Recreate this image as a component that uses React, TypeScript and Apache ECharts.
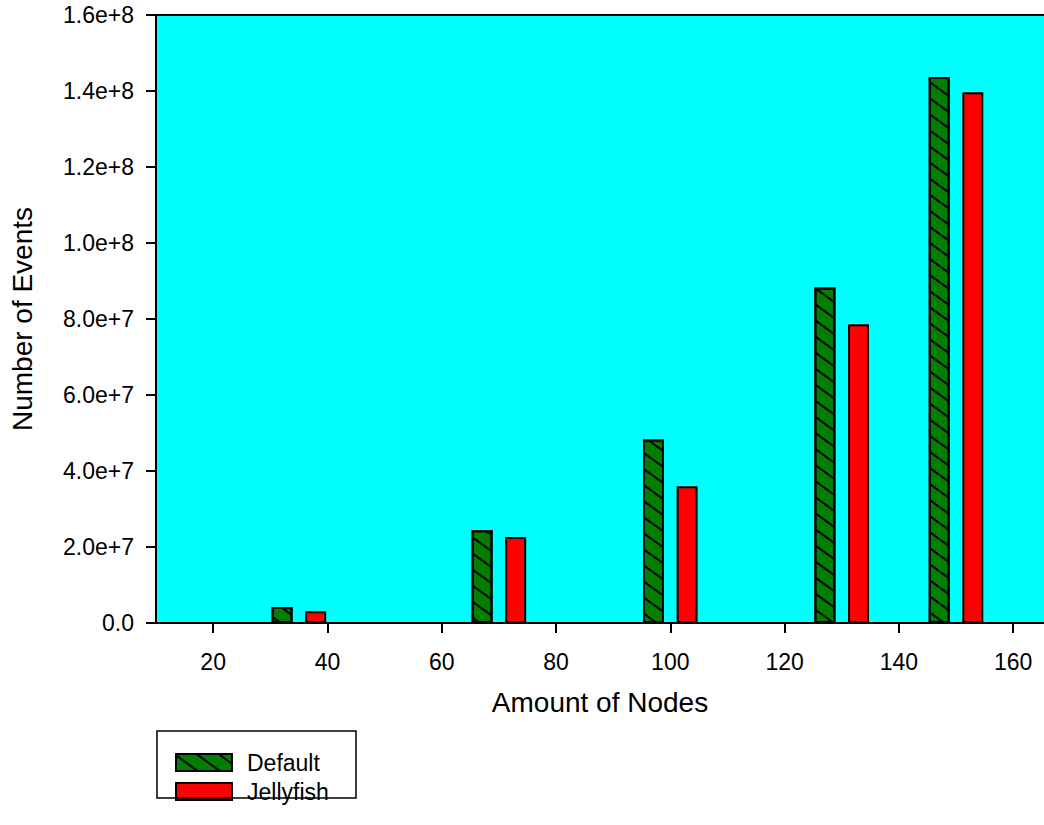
import React, { useEffect, useRef } from "react";
import * as echarts from "echarts";

const nodes = [35, 70, 100, 130, 150];
const defaultEvents = [4.2e6, 24.4e6, 48.3e6, 88.3e6, 143.7e6];
const jellyfishEvents = [3.1e6, 22.6e6, 36.0e6, 78.6e6, 139.7e6];
const xTicks = [20, 40, 60, 80, 100, 120, 140, 160];
const seriesNames = ["Default", "Jellyfish"];

const FONT = "'Liberation Sans', Arial, sans-serif";

function fmtY(v: number): string {
  if (v === 0) return "0.0";
  return v.toExponential(1);
}

export default function App() {
  const ref = useRef<HTMLDivElement>(null);
  useEffect(() => {
    if (!ref.current) return;
    const chart = echarts.init(ref.current, undefined, { renderer: "svg" });
    const option: any = {
      animation: false,
      backgroundColor: "#ffffff",
      textStyle: { fontFamily: FONT },
      grid: {
        left: 156,
        top: 15,
        right: 0,
        height: 608,
        show: true,
        backgroundColor: "#00ffff",
        borderWidth: 0,
      },
      xAxis: [
        {
          type: "value",
          min: 10,
          max: 165.4,
          name: "Amount of Nodes",
          nameLocation: "middle",
          nameGap: 65,
          nameTextStyle: { fontSize: 28, color: "#000", fontFamily: FONT },
          axisLine: { show: true, lineStyle: { color: "#000", width: 2 } },
          axisTick: { show: true, length: 10, lineStyle: { color: "#000", width: 2 }, customValues: xTicks },
          axisLabel: { fontSize: 23, color: "#000", margin: 27, fontFamily: FONT, customValues: xTicks },
          splitLine: { show: false },
        },
        {
          type: "value",
          position: "top",
          min: 10,
          max: 165.4,
          axisLine: { show: true, onZero: false, lineStyle: { color: "#000", width: 2 } },
          axisTick: { show: false },
          axisLabel: { show: false },
          splitLine: { show: false },
        },
      ],
      yAxis: {
        type: "value",
        min: 0,
        max: 1.6e8,
        interval: 2e7,
        name: "Number of Events",
        nameLocation: "middle",
        nameRotate: 90,
        nameGap: 120,
        nameTextStyle: { fontSize: 28, color: "#000", fontFamily: FONT },
        axisLine: { show: true, lineStyle: { color: "#000", width: 2 } },
        axisTick: { show: true, length: 10, lineStyle: { color: "#000", width: 2 } },
        axisLabel: { fontSize: 23, color: "#000", margin: 22, fontFamily: FONT, formatter: fmtY },
        splitLine: { show: false },
      },
      legend: {
        show: true,
        orient: "vertical",
        left: 175,
        top: 751,
        padding: 0,
        itemWidth: 56,
        itemHeight: 17,
        itemGap: 6,
        icon: "rect",
        textStyle: { fontSize: 23, color: "#000", fontFamily: FONT, lineHeight: 17, padding: [0, 0, 0, 10] },
        data: seriesNames,
      },
      graphic: [
        {
          type: "rect",
          shape: { x: 157, y: 731, width: 199, height: 67 },
          style: { fill: "transparent", stroke: "#000", lineWidth: 1.5 },
          z: 100,
        },
      ],
      series: [
        {
          name: seriesNames[0],
          type: "bar",
          barWidth: 21,
          barGap: "60%",
          data: nodes.map((n, i) => [n, defaultEvents[i]]),
          itemStyle: {
            color: "#007f00",
            borderColor: "#000",
            borderWidth: 2,
            decal: {
              symbol: "rect",
              symbolSize: 1,
              dashArrayX: [1, 0],
              dashArrayY: [2, 11],
              rotation: Math.PI / 5,
              color: "#000",
            },
          },
        },
        {
          name: seriesNames[1],
          type: "bar",
          barWidth: 21,
          barGap: "60%",
          data: nodes.map((n, i) => [n, jellyfishEvents[i]]),
          itemStyle: { color: "#ff0000", borderColor: "#000", borderWidth: 2 },
        },
      ],
    };
    chart.setOption(option);
    return () => chart.dispose();
  }, []);
  return (
    <div
      ref={ref}
      style={{ position: "absolute", left: 0, top: 0, width: 1044, height: 825 }}
    />
  );
}
